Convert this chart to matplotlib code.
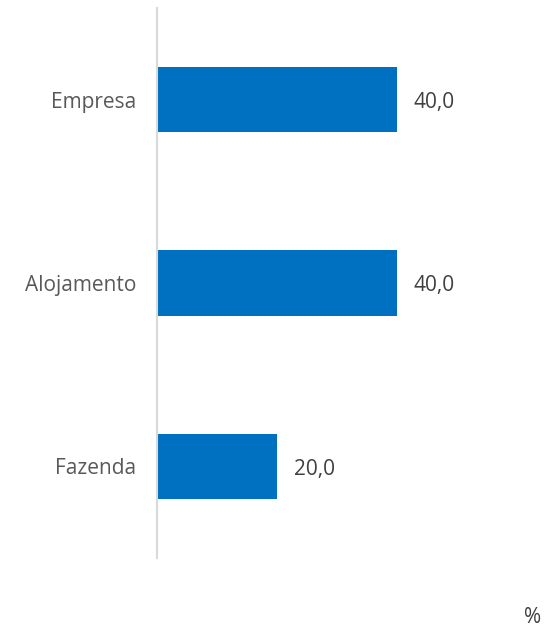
import matplotlib
matplotlib.use('Agg')
import matplotlib.pyplot as plt

categories = ['Empresa', 'Alojamento', 'Fazenda']
values = [40.0, 40.0, 20.0]

plt.rcParams['font.family'] = ['Open Sans', 'DejaVu Sans']

fig = plt.figure(figsize=(5.55, 6.31), dpi=100)
ax = fig.add_axes([0.2829, 0.1157, 0.6486, 0.8716])

pos = list(range(len(categories)))
ax.barh(pos, values, height=0.355, color='#0070C0')
ax.set_xlim(0, 60)
ax.set_ylim(2.5, -0.5)

for p, v in zip(pos, values):
    ax.annotate(f'{v:.1f}'.replace('.', ','), (v, p), xytext=(12, -2),
                textcoords='offset points', va='center', ha='left',
                fontsize=15, color='#404040')

ax.set_yticks(pos)
ax.set_yticklabels(categories, fontsize=15, color='#595959')
ax.tick_params(axis='y', length=0, pad=15)
ax.set_xticks([])
for s in ['top', 'right', 'bottom']:
    ax.spines[s].set_visible(False)
ax.spines['left'].set_color('#d9d9d9')
ax.spines['left'].set_linewidth(1.5)

fig.text(0.975, 0.022, '%', ha='right', va='center', fontsize=15, color='#404040')

fig.savefig('out.png', dpi=100)
